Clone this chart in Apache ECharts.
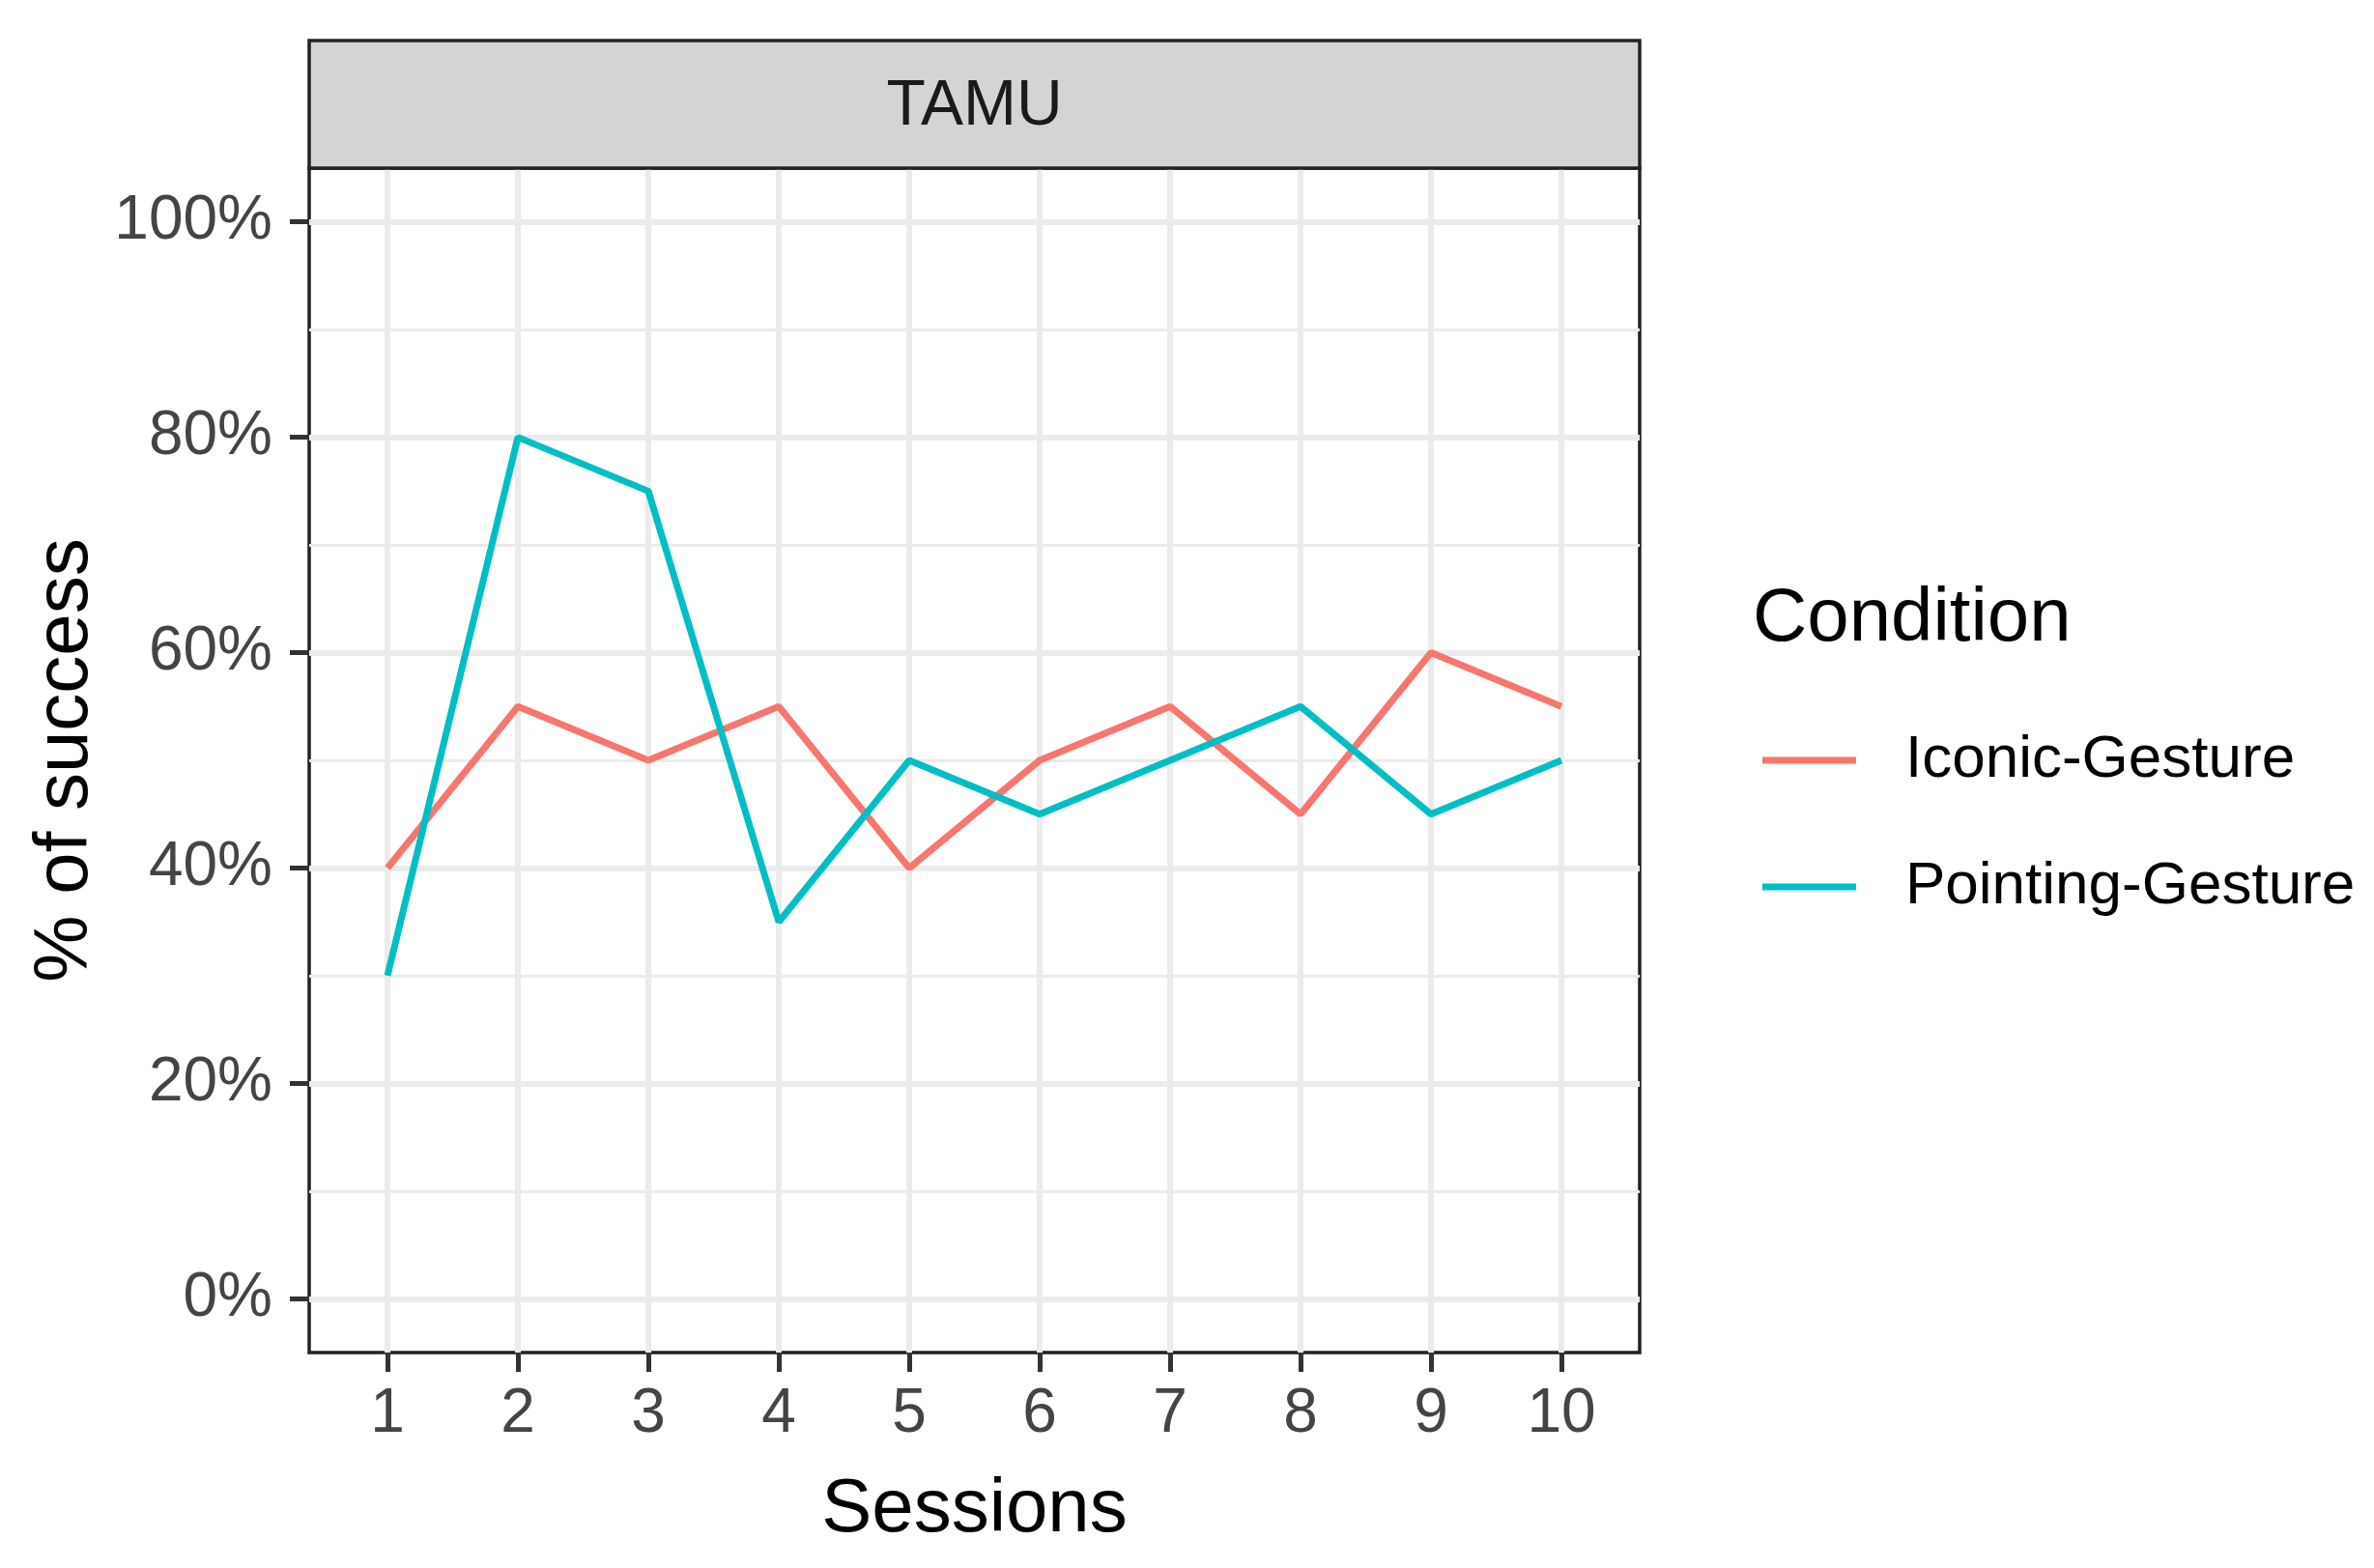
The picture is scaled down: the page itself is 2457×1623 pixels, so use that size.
<!DOCTYPE html>
<html>
<head>
<meta charset="utf-8">
<script src="https://cdn.jsdelivr.net/npm/echarts@6/dist/echarts.min.js"></script>
<style>html,body{margin:0;padding:0;background:#fff;}#c{width:2457px;height:1623px;}</style>
</head>
<body>
<div id="c"></div>
<script>
const sessions = [1, 2, 3, 4, 5, 6, 7, 8, 9, 10];
const iconic = [0.40, 0.55, 0.50, 0.55, 0.40, 0.50, 0.55, 0.45, 0.60, 0.55];
const pointing = [0.30, 0.80, 0.75, 0.35, 0.50, 0.45, 0.50, 0.55, 0.45, 0.50];
const yMajorTicks = [0, 0.2, 0.4, 0.6, 0.8, 1.0];
const yMinorTicks = [0.1, 0.3, 0.5, 0.7, 0.9];
const seriesNames = ['Iconic-Gesture', 'Pointing-Gesture'];
const colors = ['#F8766D', '#00BFC4'];

const FONT = 'Liberation Sans';
const G = {left: 320, right: 1697, top: 174, bottom: 1400};

const chart = echarts.init(document.getElementById('c'), null, {renderer: 'canvas'});
const pairs = (vals) => sessions.map((s, i) => [s, vals[i]]);

chart.setOption({
  backgroundColor: '#ffffff',
  animation: false,
  grid: {
    left: G.left, top: G.top, width: G.right - G.left, height: G.bottom - G.top,
    show: true, borderColor: '#222222', borderWidth: 3.5, backgroundColor: 'transparent',
    containLabel: false
  },
  xAxis: {
    type: 'value', min: 0.4, max: 10.6,
    name: 'Sessions', nameLocation: 'middle', nameGap: 124,
    nameTextStyle: {fontFamily: FONT, fontSize: 78, color: '#000'},
    axisLine: {show: false, onZero: false},
    axisTick: {show: true, customValues: sessions, length: 20, lineStyle: {color: '#333', width: 5}},
    axisLabel: {customValues: sessions, margin: 32, fontFamily: FONT, fontSize: 64, color: '#444444'},
    splitLine: {show: true, lineStyle: {color: '#EBEBEB', width: 6}}
  },
  yAxis: [{
    type: 'value', min: -0.05, max: 1.05,
    name: '% of success', nameLocation: 'middle', nameGap: 204,
    nameTextStyle: {fontFamily: FONT, fontSize: 78, color: '#000'},
    axisLine: {show: false, onZero: false},
    axisTick: {show: true, customValues: yMajorTicks, length: 20, lineStyle: {color: '#333', width: 5}},
    axisLabel: {customValues: yMajorTicks, margin: 38, fontFamily: FONT, fontSize: 64, color: '#444444',
      formatter: v => Math.round(v * 100) + '%'},
    splitLine: {show: true, lineStyle: {color: '#EBEBEB', width: 6}}
  }, {
    type: 'value', min: -0.05, max: 1.05, position: 'left',
    axisLine: {show: false, onZero: false},
    axisTick: {show: false, customValues: yMinorTicks},
    axisLabel: {show: false, customValues: yMinorTicks},
    splitLine: {show: true, lineStyle: {color: '#EBEBEB', width: 3}}
  }],
  legend: [0, 1].map(i => ({
    data: [seriesNames[i]],
    left: 1824, top: (i === 0 ? 787 : 918) - 40,
    padding: 0,
    orient: 'vertical',
    icon: 'rect', itemWidth: 97, itemHeight: 7,
    selectedMode: false,
    textStyle: {fontFamily: FONT, fontSize: 62, color: '#000', lineHeight: 80, padding: [0, 0, 0, 46]}
  })),
  graphic: [
    {type: 'rect', shape: {x: G.left, y: 42, width: G.right - G.left, height: G.top - 42},
      style: {fill: '#D4D4D4', stroke: '#222222', lineWidth: 3.5}, z: 10},
    {type: 'text', x: (G.left + G.right) / 2, y: 111, z: 11,
      style: {text: 'TAMU', fontFamily: FONT, fontSize: 66, fill: '#1A1A1A', align: 'center', verticalAlign: 'middle'}},
    {type: 'text', x: 1814, y: 641, z: 11,
      style: {text: 'Condition', fontFamily: FONT, fontSize: 78, fill: '#000', align: 'left', verticalAlign: 'middle'}}
  ],
  series: [0, 1].map(i => ({
    name: seriesNames[i], type: 'line', yAxisIndex: 0,
    data: pairs(i === 0 ? iconic : pointing),
    symbol: 'none', smooth: false,
    lineStyle: {color: colors[i], width: 7},
    itemStyle: {color: colors[i]},
    z: 5 + i
  }))
});
</script>
</body>
</html>
